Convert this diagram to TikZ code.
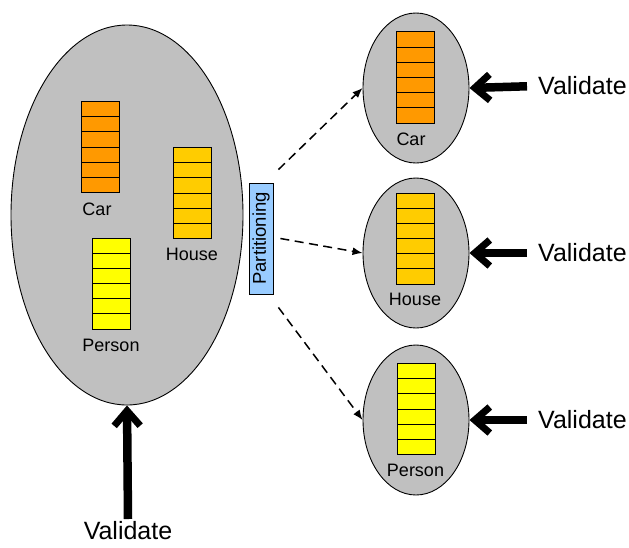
\documentclass[tikz,border=0pt]{standalone}
\usepackage{fontspec}
\setmainfont{Liberation Sans}
\usepackage{xcolor}
\usepackage{tikz}
\usetikzlibrary{positioning,arrows.meta,shapes.geometric}

\definecolor{carorange}{HTML}{FF9900}
\definecolor{housegold}{HTML}{FFCC00}
\definecolor{personyellow}{HTML}{FFFF00}
\definecolor{setgray}{HTML}{C0C0C0}
\definecolor{partblue}{HTML}{99CCFF}

\begin{document}
\begin{tikzpicture}[x=1pt, y=-1pt,
  set/.style={draw, ellipse, fill=setgray, inner sep=0pt, line width=0.9pt},
  cell/.style={draw, line width=1pt, minimum width=38pt, inner sep=0pt},
  lbl/.style={font=\fontsize{18}{20}\selectfont, inner sep=0pt},
  val/.style={font=\fontsize{25}{28}\selectfont, inner sep=2pt},
  valarr/.style={-{Straight Barb[length=15pt, width=26pt, line width=7pt]}, line width=8.5pt},
  darr/.style={-{Latex[length=10pt, width=8pt]}, line width=1.5pt, dash pattern=on 9pt off 5.5pt}
]
\useasboundingbox (0,0) rectangle (629,547);

%% Unpartitioned set (left)
\node[set, minimum width=232pt, minimum height=380pt] (bigset) at (127,215) {};

\foreach \i in {0,...,5}
  \node[cell, minimum height=15.33pt, fill=carorange] (bigcar\i) at (100,{108.67+15.33*\i}) {};
\foreach \i in {0,...,5}
  \node[cell, minimum height=15.33pt, fill=housegold] (bighouse\i) at (192,{154.67+15.33*\i}) {};
\foreach \i in {0,...,5}
  \node[cell, minimum height=15.17pt, fill=personyellow] (bigperson\i) at (111.5,{245.58+15.17*\i}) {};

\node[lbl] (bigcarlbl) at (97,209) {Car};
\node[lbl] (bighouselbl) at (192,254) {House};
\node[lbl] (bigpersonlbl) at (111,345) {Person};

%% Partitioning step
\node[draw, fill=partblue, line width=0.8pt, minimum width=24pt, minimum height=111pt,
      inner sep=0pt, font=\fontsize{18.5}{20}\selectfont] (part) at (261,238.5)
  {\rotatebox{90}{Partitioning}};

%% Partitioned sets (right)
\node[set, minimum width=106pt, minimum height=150pt] (carset) at (416,88) {};
\node[set, minimum width=106pt, minimum height=150pt] (houseset) at (416,253) {};
\node[set, minimum width=106pt, minimum height=150pt] (personset) at (416,420) {};

\foreach \i in {0,...,5}
  \node[cell, minimum height=15.17pt, fill=carorange] (carcell\i) at (415,{39.58+15.17*\i}) {};
\foreach \i in {0,...,5}
  \node[cell, minimum height=15.17pt, fill=housegold] (housecell\i) at (415,{200.58+15.17*\i}) {};
\foreach \i in {0,...,5}
  \node[cell, minimum height=15.33pt, fill=personyellow] (personcell\i) at (416,{370.67+15.33*\i}) {};

\node[lbl] (carlbl) at (411,139) {Car};
\node[lbl] (houselbl) at (415,299) {House};
\node[lbl] (personlbl) at (415.5,470) {Person};

\coordinate (ptop) at ([xshift=5pt, yshift=13pt]part.north east);
\coordinate (pmid) at ([xshift=7pt]part.east);
\coordinate (pbot) at ([xshift=5pt, yshift=-13pt]part.south east);

\draw[darr] (ptop) -- (carset.west);
\draw[darr] (pmid) -- (houseset.west);
\draw[darr] (pbot) -- (personset.west);

%% Validation inputs
\node[val, anchor=west] (valcar) at (536,86) {Validate};
\node[val, anchor=west] (valhouse) at (536,253) {Validate};
\node[val, anchor=west] (valperson) at (536,420) {Validate};
\node[val, anchor=north] (valbig) at (128,519) {Validate};

\draw[valarr, shorten <=9pt] (valcar.west) -- (carset.east);
\draw[valarr, shorten <=9pt] (valhouse.west) -- (houseset.east);
\draw[valarr, shorten <=9pt] (valperson.west) -- (personset.east);
\draw[valarr] (valbig.north) -- (bigset.south);
\end{tikzpicture}
\end{document}
